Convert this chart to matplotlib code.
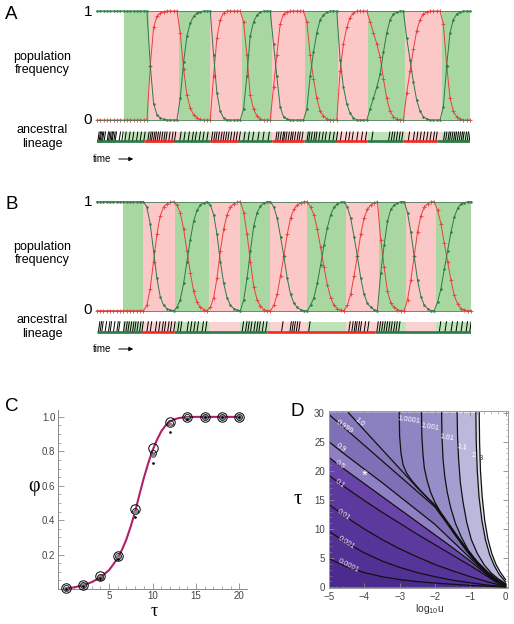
import matplotlib
matplotlib.use('Agg')
import matplotlib.pyplot as plt
import numpy as np
from matplotlib.patches import Rectangle, Polygon
from matplotlib.ticker import MultipleLocator, FixedLocator

plt.rcParams['font.family'] = ['Liberation Sans', 'DejaVu Sans']
plt.rcParams['mathtext.fontset'] = 'custom'
plt.rcParams['mathtext.rm'] = 'Liberation Sans'

W, H = 514, 624

# ---------------- panels A / B : simulated trajectories ----------------
# environment switch times (steps); regions alternate green, pink, green ...
env_A = [8, 15.5, 24.5, 34, 43.5, 52.5, 62.5, 72.5, 81.5, 92.5, 103.5, 112]
env_B = [8, 14, 23.5, 33.5, 43, 52, 63, 74.5, 84.5, 92.5, 101.5, 112]

# frequency of the green type at each step
green_A = [1] * 16 + \
    [0.5, 0.15, 0.05, 0.02, 0.005, 0, 0, 0, 0] + \
    [0.2, 0.53, 0.77, 0.89, 0.95, 0.98, 0.995, 1, 1, 1] + \
    [0.6, 0.25, 0.08, 0.02, 0, 0, 0, 0, 0] + \
    [0.1, 0.4, 0.77, 0.9, 0.96, 0.99, 1, 1, 1] + \
    [0.7, 0.4, 0.12, 0.03, 0.01, 0, 0, 0, 0, 0] + \
    [0.1, 0.4, 0.62, 0.8, 0.92, 0.96, 0.99, 1, 1, 1] + \
    [0.55, 0.3, 0.15, 0.06, 0.02, 0, 0, 0, 0] + \
    [0.1, 0.2, 0.3, 0.42, 0.62, 0.8, 0.92, 0.97, 0.99, 1, 1] + \
    [0.75, 0.55, 0.35, 0.18, 0.08, 0.03, 0.01, 0, 0, 0, 0] + \
    [0.12, 0.5, 0.8, 0.92, 0.97, 0.99, 1, 1, 1]

green_B = [1] * 15 + \
    [0.95, 0.8, 0.55, 0.3, 0.13, 0.05, 0.02, 0.005, 0] + \
    [0.03, 0.1, 0.25, 0.45, 0.65, 0.82, 0.92, 0.97, 0.99, 1] + \
    [0.97, 0.88, 0.7, 0.45, 0.25, 0.12, 0.05, 0.02, 0.005, 0] + \
    [0.1, 0.3, 0.55, 0.78, 0.9, 0.96, 0.99, 1, 1] + \
    [0.95, 0.85, 0.68, 0.5, 0.3, 0.15, 0.07, 0.03, 0.01, 0, 0] + \
    [0.05, 0.12, 0.25, 0.42, 0.6, 0.76, 0.88, 0.95, 0.98, 0.995, 1] + \
    [0.95, 0.85, 0.68, 0.5, 0.3, 0.15, 0.07, 0.03, 0.01, 0] + \
    [0.35, 0.6, 0.82, 0.93, 0.97, 0.99, 1, 1] + \
    [0.9, 0.72, 0.5, 0.28, 0.13, 0.05, 0.02, 0, 0] + \
    [0.08, 0.2, 0.38, 0.55, 0.72, 0.86, 0.94, 0.98, 0.99, 1, 1]

# ancestral lineage type changes (green, red, green, ...)
lineage_A = [0, 14.2, 23, 33.9, 42.4, 52.4, 62.3, 71.9, 81.2, 91.8, 102.2, 112]
lineage_B = [0, 13.2, 23.2, 51, 83.3, 112]

# events along the lineage (black slashes)
events_A = [0.2, 0.6, 0.9, 1.3, 1.6, 2.1, 3.0, 3.4, 3.8, 4.2, 4.5, 5.0, 5.4,
            6.6, 7.4, 8.3, 9.5, 10.6, 11.8, 12.9, 14.0,
            15.2, 15.8, 16.3, 16.9, 17.4, 18.0, 18.6, 19.3, 20.0, 20.6, 21.5, 22.4, 23.2,
            24.8, 26.0, 27.3, 28.5, 29.4, 30.6, 31.7, 32.9,
            34.3, 35.0, 35.6, 36.3, 37.1, 37.8, 38.5, 39.2, 40.0, 40.9, 41.7, 42.6,
            44.0, 45.3, 46.6, 48.2, 49.7, 51.3,
            53.6, 54.2, 54.9, 55.6, 56.0, 56.6, 57.3, 58.0, 58.5, 59.2, 60.0, 60.6, 61.4,
            63.0, 63.5, 64.2, 65.0, 65.6, 66.5, 67.5, 68.4, 69.6, 70.8, 71.8,
            73.0, 74.5, 75.5, 76.5, 77.9, 79.3, 80.5,
            82.4, 87.5, 88.3, 89.0, 89.8, 90.6, 91.4,
            93.4, 94.9, 95.9, 96.9, 97.9, 98.9, 99.9, 100.9, 101.7,
            104.0, 104.6, 105.3, 105.8, 106.4, 107.0, 107.5, 108.1, 108.7, 109.3,
            109.8, 110.5, 111.1, 111.7]
events_B = [0.5, 1.0, 1.5, 2.5, 3.5, 4.0, 5.0, 6.0, 6.5,
            8.0, 8.7, 9.3, 10.0, 10.7, 11.3, 12.0, 12.8, 13.5,
            15.0, 16.0, 17.5, 18.5, 19.5, 20.2, 21.2, 22.0, 23.0,
            24.2, 25.0, 27.0, 28.0, 29.0, 30.0, 31.5, 32.5,
            43.5, 44.5, 45.2, 46.0, 47.0, 47.8, 48.5, 49.5, 50.5,
            55.3, 57.8, 58.4, 59.0, 59.7, 60.4, 63.4,
            75.4, 76.3, 77.0, 77.5, 78.2, 78.8, 80.0, 81.0,
            83.8, 84.5, 85.2, 85.9, 86.6, 87.3, 88.0, 88.8, 89.5, 90.3,
            102.5, 104.2, 106.0, 107.5, 109.0, 110.5, 111.6]

# ---------------- panel C ----------------
tau_pts = [0, 2, 4, 6, 8, 10, 12, 14, 16, 18, 20]
phi_big = [0.003, 0.025, 0.074, 0.194, 0.465, 0.818, 0.969, 0.999, 1, 1, 1]
phi_mid = [0.003, 0.024, 0.072, 0.19, 0.455, 0.79, 0.962, 0.997, 1, 1, 1]
phi_gray = [0.002, 0.022, 0.069, 0.185, 0.447, 0.779, 0.955, 0.995, 1, 1, 1]
phi_dot = [0.001, 0.02, 0.064, 0.177, 0.418, 0.73, 0.914, 0.99, 1, 1, 1]
tau_curve = [0, 1, 2, 3, 4, 5, 6, 6.5, 7, 7.5, 8, 8.5, 9, 9.5, 10, 10.5, 11,
             11.5, 12, 12.5, 13, 14, 15, 16, 17, 18, 19, 20]
phi_curve = [0.003, 0.01, 0.022, 0.04, 0.068, 0.11, 0.18, 0.23, 0.29, 0.365,
             0.45, 0.55, 0.645, 0.73, 0.805, 0.865, 0.915, 0.95, 0.972, 0.985,
             0.993, 0.999, 1, 1, 1, 1, 1, 1]

# ---------------- panel D : contour lines (log10 u, tau) ----------------
c_1em4 = [(-5, 4.9), (-4.5, 3.5), (-4, 2.5), (-3.5, 1.8), (-3, 1.3), (-2.5, 0.95),
          (-2, 0.7), (-1.5, 0.5), (-1, 0.3), (-0.5, 0.15), (0, 0.03)]
c_1em3 = [(-5, 9.6), (-4.5, 7.6), (-4, 5.9), (-3.5, 4.5), (-3, 3.4), (-2.5, 2.5),
          (-2, 1.8), (-1.5, 1.2), (-1, 0.75), (-0.5, 0.35), (0, 0.05)]
c_1em2 = [(-5, 14.2), (-4.5, 12.0), (-4, 10.0), (-3.5, 8.2), (-3, 6.6), (-2.5, 5.2),
          (-2, 3.9), (-1.5, 2.8), (-1, 1.8), (-0.5, 0.9), (0, 0.1)]
c_0p1 = [(-5, 19.2), (-4.5, 17.0), (-4, 14.9), (-3.5, 12.9), (-3, 11.0), (-2.5, 9.1),
         (-2, 7.3), (-1.5, 5.5), (-1, 3.7), (-0.5, 1.8), (-0.25, 0.8), (0, 0.15)]
c_0p5 = [(-5, 22.3), (-4.5, 20.0), (-4, 17.8), (-3.5, 15.6), (-3, 13.4), (-2.5, 11.2),
         (-2, 9.0), (-1.5, 6.8), (-1, 4.5), (-0.5, 2.0), (-0.25, 0.9), (0, 0.2)]
c_0p9 = [(-5, 25.0), (-4.5, 22.6), (-4, 20.3), (-3.5, 18.0), (-3, 15.6), (-2.5, 13.2),
         (-2, 10.8), (-1.5, 7.9), (-1, 5.0), (-0.5, 2.1), (-0.25, 1.0), (0, 0.25)]
c_0p999 = [(-5, 29.7), (-4.5, 27.05), (-4, 24.4), (-3.5, 21.75), (-3, 19.1), (-2.5, 16.45),
           (-2, 13.8), (-1.7, 11.3), (-1.4, 8.7), (-1.1, 6.2), (-0.8, 4.0), (-0.5, 2.25),
           (-0.25, 1.1), (0, 0.35)]
c_1p0 = [(-4.45, 30), (-4, 27.0), (-3.5, 23.7), (-3, 20.4), (-2.5, 17.1), (-2, 14.05),
         (-1.7, 11.5), (-1.4, 8.9), (-1.1, 6.4), (-0.8, 4.2), (-0.5, 2.4), (-0.25, 1.2), (0, 0.4)]
c_1p0001 = [(-3.01, 30), (-3.0, 26), (-2.96, 23), (-2.9, 21), (-2.8, 19.6), (-2.65, 18.3),
            (-2.45, 16.9), (-2.2, 15.3), (-2.0, 14.15), (-1.7, 11.6), (-1.4, 9.0),
            (-1.1, 6.5), (-0.8, 4.3), (-0.5, 2.45), (-0.25, 1.25), (0, 0.42)]
c_1p001 = [(-2.38, 30), (-2.37, 26), (-2.34, 23), (-2.3, 20.5), (-2.22, 18.3), (-2.12, 16.3),
           (-2.0, 14.6), (-1.85, 13.0), (-1.7, 11.7), (-1.4, 9.1), (-1.1, 6.6), (-0.8, 4.4),
           (-0.5, 2.55), (-0.25, 1.3), (0, 0.45)]
c_1p01 = [(-1.81, 30), (-1.8, 26), (-1.77, 22), (-1.72, 19), (-1.65, 16.3), (-1.55, 13.6),
          (-1.42, 11.0), (-1.25, 8.6), (-1.05, 6.3), (-0.8, 4.3), (-0.5, 2.6), (-0.25, 1.35),
          (0, 0.5)]
c_1p1 = [(-1.37, 30), (-1.36, 26), (-1.33, 22), (-1.28, 18), (-1.2, 14.5), (-1.1, 11.2),
         (-0.97, 8.2), (-0.8, 5.8), (-0.6, 3.8), (-0.4, 2.4), (-0.2, 1.4), (0, 0.6)]
c_2 = [(-0.84, 30), (-0.83, 25), (-0.8, 20), (-0.75, 15.5), (-0.67, 11.5), (-0.57, 8.2),
       (-0.45, 5.6), (-0.32, 3.7), (-0.18, 2.2), (0, 0.9)]
c_3 = [(-0.745, 30), (-0.735, 25), (-0.71, 20), (-0.66, 15.5), (-0.59, 11.5), (-0.5, 8.3),
       (-0.39, 5.8), (-0.27, 3.9), (-0.14, 2.5), (0, 1.3)]

# colour of the band just below each contour line, from the top level down
contours_D = [c_3, c_2, c_1p1, c_1p01, c_1p001, c_1p0001, c_1p0, c_0p999,
              c_0p9, c_0p5, c_0p1, c_1em2, c_1em3, c_1em4]
band_colors = ['#d9dee6', '#bcb8dc', '#a59fd0', '#968ec7', '#8e85c2', '#8a80bf',
               '#8579bb', '#7e6fb6', '#8f7fc4', '#6844a8', '#5c3a9d', '#56359a',
               '#513194', '#4b2b8d']
labels_D = [('0.0001', -4.45, 3.6, -27), ('0.001', -4.5, 7.7, -33), ('0.01', -4.6, 12.4, -35),
            ('0.1', -4.7, 17.8, -36), ('0.5', -4.7, 21.0, -36), ('0.9', -4.65, 23.9, -36),
            ('0.999', -4.55, 27.5, -34), ('1.0', -4.15, 28.3, -40), ('1.0001', -2.72, 28.8, -8),
            ('1.001', -2.15, 27.6, -10), ('1.01', -1.65, 25.7, -10), ('1.1', -1.22, 24.0, -10),
            ('2', -0.89, 22.6, 0), ('3', -0.69, 22.2, 0)]
star_D = (-3.98, 19.1)

GREEN_BG = '#a9d7a1'
PINK_BG = '#fcc7c7'
GREEN_BAR = '#bfe3b8'
PINK_BAR = '#fbd2d2'
GREEN_LINE = '#2c7a46'
RED_LINE = '#e8403c'

fig = plt.figure(figsize=(W / 100, H / 100), dpi=100)


def fx(x):
    return x / W


def fy(y):
    return 1 - y / H


def traj_panel(left, right, y_one, env, green, lineage, events, bar_top, bar_bot, line_y):
    # y_one: pixel of frequency 1; frequency 0 is 109 px lower
    ylo, yhi = -0.25, 1.04
    top_px = y_one - (yhi - 1) * 109
    bot_px = y_one + 109 + (-ylo) * 109
    ax = fig.add_axes([fx(left), fy(bot_px), (right - left) / W, (bot_px - top_px) / H])
    ax.set_xlim(0, len(green) - 1)
    ax.set_ylim(ylo, yhi)
    ax.axis('off')
    for i in range(len(env) - 1):
        c = GREEN_BG if i % 2 == 0 else PINK_BG
        cb = GREEN_BAR if i % 2 == 0 else PINK_BAR
        ax.add_patch(Rectangle((env[i], 0), env[i + 1] - env[i], 1, color=c, lw=0, zorder=1))
        ax.add_patch(Rectangle((env[i], bar_bot), env[i + 1] - env[i], bar_top - bar_bot,
                               color=cb, lw=0, zorder=1))
    t = np.arange(len(green))
    g = np.array(green)
    red = 1 - g
    ax.plot(t, red, color=RED_LINE, lw=0.7, marker='+', ms=2.5, mew=0.6, zorder=3,
            clip_on=False)
    ax.plot(t, g, color=GREEN_LINE, lw=0.7, marker='o', ms=1.8, mew=0, zorder=4,
            clip_on=False)
    ax.plot([0, t[-1]], [1, 1], color='#4a7a58', lw=0.6, zorder=5)
    ax.plot([0, t[-1]], [0, 0], color='#4a7a58', lw=0.6, zorder=5)
    for e in events:
        ax.plot([e, e + 0.45], [line_y - 0.005, bar_top], color='k', lw=0.7, zorder=3)
    for i in range(len(lineage) - 1):
        c = GREEN_LINE if i % 2 == 0 else '#f02a22'
        ax.plot([lineage[i], lineage[i + 1]], [line_y, line_y], color=c, lw=1.9,
                solid_capstyle='butt', zorder=4)
    return ax


axA = traj_panel(97, 470, 11, env_A, green_A, lineage_A, events_A, -0.11, -0.205, -0.197)
axB = traj_panel(96.7, 471, 201.7, env_B, green_B, lineage_B, events_B, -0.101, -0.2, -0.192)

for lab, ytop in (('A', 0), ('B', 190)):
    fig.text(fx(11.5), fy(ytop + 14.5), lab, fontsize=13.5, ha='center', va='center')
    fig.text(fx(88), fy(ytop + 11.7), '1', fontsize=11, ha='center', va='center')
    fig.text(fx(88), fy(ytop + 119.5), '0', fontsize=11, ha='center', va='center')
    fig.text(fx(42.5), fy(ytop + 63.5), 'population\nfrequency', fontsize=9,
             ha='center', va='center', linespacing=1.15)
    fig.text(fx(42.5), fy(ytop + 137), 'ancestral\nlineage', fontsize=9,
             ha='center', va='center', linespacing=1.15)
    fig.text(fx(102), fy(ytop + 159), 'time', fontsize=7, ha='center', va='center')
    axA.annotate('', xy=(fx(136), fy(ytop + 159)), xytext=(fx(116), fy(ytop + 159)),
                 xycoords='figure fraction', textcoords='figure fraction',
                 arrowprops=dict(arrowstyle='-|>', color='k', lw=0.7, mutation_scale=6),
                 annotation_clip=False)

# ---------------- panel C ----------------
axC = fig.add_axes([fx(58), fy(589), (247 - 58) / W, (589 - 410) / H])
axC.plot(tau_curve, phi_curve, color='#b0206a', lw=1.5, zorder=2)
axC.plot(tau_pts, phi_big, 'o', mfc='none', mec='k', ms=6.8, mew=0.7, clip_on=False, zorder=3)
axC.plot(tau_pts, phi_mid, 'o', mfc='none', mec='#222222', ms=4.3, mew=0.7, clip_on=False, zorder=3)
axC.plot(tau_pts, phi_gray, 'o', mfc='#8c8c8c', mec='#555555', ms=3.0, mew=0.4, clip_on=False, zorder=3)
axC.plot(tau_pts, phi_dot, 'o', color='k', ms=1.9, mew=0, clip_on=False, zorder=4)
axC.set_xlim(-0.9, 20.9)
axC.set_ylim(0, 1.04)
for s in ('top', 'right'):
    axC.spines[s].set_visible(False)
for s in ('left', 'bottom'):
    axC.spines[s].set_color('#888888')
    axC.spines[s].set_linewidth(0.7)
axC.xaxis.set_major_locator(FixedLocator([5, 10, 15, 20]))
axC.xaxis.set_minor_locator(FixedLocator([i for i in range(0, 21) if i % 5]))
axC.yaxis.set_major_locator(FixedLocator([0.2, 0.4, 0.6, 0.8, 1.0]))
axC.yaxis.set_minor_locator(FixedLocator([0.05 * i for i in range(1, 21) if i % 4]))
axC.set_yticklabels(['0.2', '0.4', '0.6', '0.8', '1.0'])
axC.tick_params(which='both', direction='in', color='#888888', labelsize=7,
                labelcolor='#444444', pad=2)
axC.tick_params(axis='x', pad=1.5)
axC.tick_params(which='major', length=4, width=0.6)
axC.tick_params(which='minor', length=2, width=0.5)
fig.text(fx(11.7), fy(406.3), 'C', fontsize=13.5, ha='center', va='center')
fig.text(fx(34), fy(487), 'φ', fontsize=14.5, ha='center', va='center',
         family=['Liberation Serif', 'DejaVu Serif'])
fig.text(fx(154), fy(612), 'τ', fontsize=13, ha='center', va='center',
         family=['Liberation Serif', 'DejaVu Serif'])

# ---------------- panel D ----------------
axD = fig.add_axes([fx(329), fy(588.3), (508 - 329) / W, (588.3 - 411) / H])
axD.set_xlim(-5, 0.07)
axD.set_ylim(-0.2, 30.3)
axD.add_patch(Rectangle((-5, 0), 5, 30, color='white', lw=0, zorder=1))
for pts, col in zip(contours_D, band_colors):
    poly = list(pts)
    if poly[0][0] > -5:
        poly = [(-5, 30)] + poly
    poly = poly + [(0, 0), (-5, 0)]
    axD.add_patch(Polygon(poly, closed=True, facecolor=col, edgecolor='none', zorder=1))
for pts in contours_D:
    xs = [p[0] for p in pts]
    ts = [p[1] for p in pts]
    axD.plot(xs, ts, color='#111111', lw=0.9, zorder=2)
for txt, x, y, rot in labels_D:
    col = '#3a3a5a' if txt == '3' else ('#f0e0f4' if x < -4 and y < 22 else 'white')
    axD.text(x, y, txt, fontsize=5.5, color=col, rotation=rot, ha='center', va='center',
             zorder=3)
axD.text(star_D[0], star_D[1], '*', fontsize=11, color='white', ha='center', va='center',
         zorder=3)
axD.set_xticks([-5, -4, -3, -2, -1, 0])
axD.set_yticks([0, 5, 10, 15, 20, 25, 30])
axD.xaxis.set_minor_locator(MultipleLocator(0.2))
axD.yaxis.set_minor_locator(MultipleLocator(1))
axD.tick_params(which='both', direction='in', color='#888888', labelsize=7,
                labelcolor='#444444', top=True, right=True, pad=3)
axD.tick_params(which='major', length=3.5, width=0.6)
axD.tick_params(which='minor', length=1.8, width=0.4)
for s in axD.spines.values():
    s.set_color('#999999')
    s.set_linewidth(0.7)
fig.text(fx(297), fy(411.7), 'D', fontsize=13.5, ha='center', va='center')
fig.text(fx(297.5), fy(499), 'τ', fontsize=15, ha='center', va='center',
         family=['Liberation Serif', 'DejaVu Serif'])
fig.text(fx(430), fy(609), r'log$_{10}$u', fontsize=7.5, ha='center', va='center',
         color='#333333')

fig.savefig('out.png', dpi=100)
